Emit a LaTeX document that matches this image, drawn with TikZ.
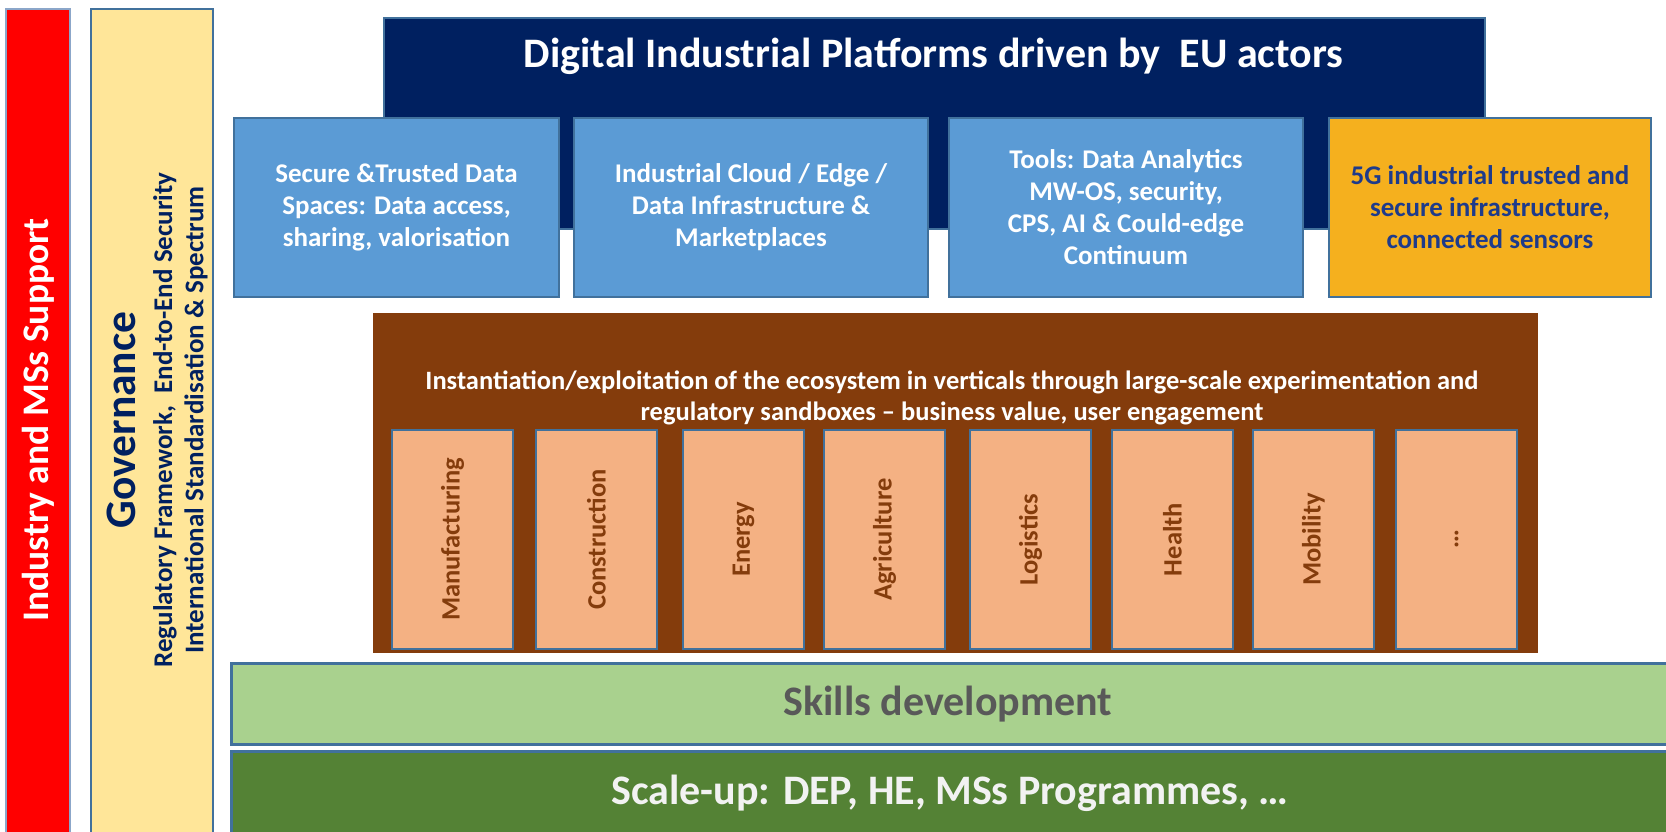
\documentclass[tikz,border=0pt]{standalone}
\usepackage{fontspec}
\setmainfont{Carlito}
\definecolor{edgeblue}{HTML}{41719C}
\definecolor{lightedge}{HTML}{8BA6C9}
\definecolor{redfill}{HTML}{FF0000}
\definecolor{yellowfill}{HTML}{FFE699}
\definecolor{navyfill}{HTML}{002060}
\definecolor{bluefill}{HTML}{5B9BD5}
\definecolor{orangefill}{HTML}{F5B01E}
\definecolor{orangetext}{HTML}{1E3B8B}
\definecolor{brownfill}{HTML}{843C0C}
\definecolor{sectorfill}{HTML}{F4B183}
\definecolor{lightgreen}{HTML}{A9D18E}
\definecolor{darkgreen}{HTML}{548235}
\definecolor{skillstext}{HTML}{595959}
\definecolor{scaletext}{HTML}{F2F2F2}
\begin{document}
\begin{tikzpicture}[x=1pt,y=-1pt,
  panel/.style={draw=edgeblue, line width=2pt, inner sep=0pt, anchor=north west, align=center, font=\bfseries},
  pillar/.style={panel, fill=bluefill, text=white, minimum height=179pt,
                 font=\fontsize{27}{32}\selectfont\bfseries},
  sectorbox/.style={panel, fill=sectorfill, minimum width=121pt, minimum height=219pt},
  sectortext/.style={rotate=90, text=brownfill, font=\fontsize{26.5}{31}\selectfont\bfseries, inner sep=0pt},
  vtext/.style={rotate=90, inner sep=0pt, align=center}
]
\useasboundingbox (0,0) rectangle (1666,831);

% left columns
\node[panel, draw=lightedge, fill=redfill, minimum width=64pt, minimum height=840pt] (industry) at (5,8) {};
\node[vtext, text=white, font=\fontsize{37.5}{40}\selectfont\bfseries] (industrytxt) at (38,420) {Industry and MSs Support};

\node[panel, fill=yellowfill, minimum width=122pt, minimum height=840pt] (gov) at (90,8) {};
\node[vtext, text=navyfill, font=\fontsize{43.5}{46}\selectfont\bfseries] (govtitle) at (121,420) {Governance};
\node[vtext, text=navyfill, font=\fontsize{27}{30}\selectfont\bfseries] (govline1) at (165,420) {Regulatory Framework,\ \ End-to-End Security};
\node[vtext, text=navyfill, font=\fontsize{27}{30}\selectfont\bfseries] (govline2) at (196,420) {International Standardisation \& Spectrum};

% platform header
\node[panel, fill=navyfill, minimum width=1101pt, minimum height=211pt] (platform) at (383,17) {};
\node[text=white, font=\fontsize{42}{46}\selectfont\bfseries, inner sep=0pt] (platformtxt) at (933.5,56) {Digital Industrial Platforms driven by\ \ EU actors};

% pillars
\node[pillar, minimum width=325pt] (data) at (233,117) {Secure \&Trusted Data\\Spaces: Data access,\\sharing, valorisation};
\node[pillar, minimum width=354pt] (cloud) at (573,117) {Industrial Cloud / Edge /\\Data Infrastructure \&\\Marketplaces};
\node[pillar, minimum width=354pt] (tools) at (948,117) {Tools: Data Analytics\\MW-OS, security,\\CPS, AI \& Could-edge\\Continuum};
\node[pillar, fill=orangefill, text=orangetext, minimum width=322pt] (fiveg) at (1328,117) {5G industrial trusted and\\secure infrastructure,\\connected sensors};

% verticals
\node[panel, draw=brownfill, line width=0.5pt, fill=brownfill, minimum width=1164pt, minimum height=339pt] (verticals) at (373,313) {};
\node[text=white, font=\fontsize{26.5}{31}\selectfont\bfseries, align=center, inner sep=0pt] (verticalstxt) at (952,398)
  {Instantiation/exploitation of the ecosystem in verticals through large-scale experimentation and\\regulatory sandboxes -- business value, user engagement};

\foreach \xx/\nm/\lab in {391/man/Manufacturing, 535/con/Construction, 682/ene/Energy, 823/agr/Agriculture,
                         969/log/Logistics, 1111/hea/Health, 1252/mob/Mobility, 1395/etc/\dots}{
  \node[sectorbox] (\nm) at (\xx,429) {};
  \node[sectortext] (\nm txt) at (\nm.center) {\lab};
}

% bottom bands
\node[panel, line width=2.5pt, fill=lightgreen, minimum width=1442pt, minimum height=81pt] (skills) at (230,662) {};
\node[text=skillstext, font=\fontsize{42}{46}\selectfont\bfseries, inner sep=0pt] (skillstxt) at (948,704) {Skills development};
\node[panel, line width=2.5pt, fill=darkgreen, minimum width=1442pt, minimum height=90pt] (scaleup) at (230,750) {};
\node[text=scaletext, font=\fontsize{42}{46}\selectfont\bfseries, inner sep=0pt] (scaleuptxt) at (950,793) {Scale-up: DEP, HE, MSs Programmes, \dots};
\end{tikzpicture}
\end{document}
